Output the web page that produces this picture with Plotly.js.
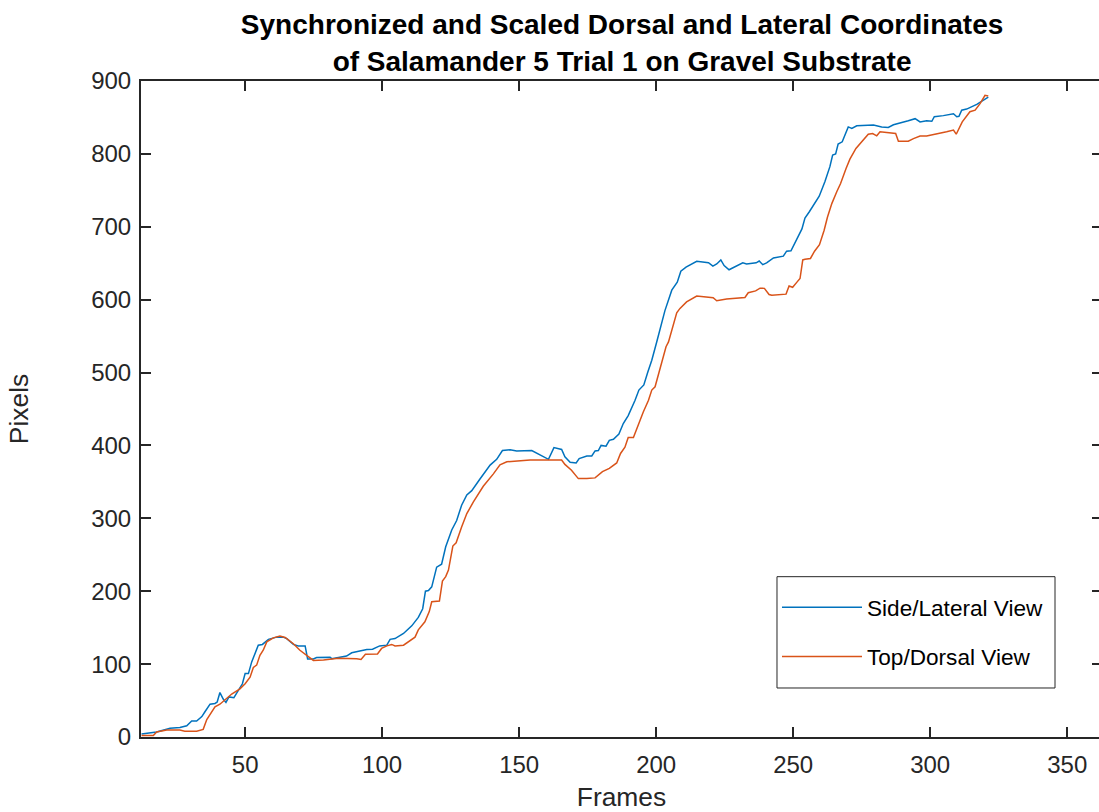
<!DOCTYPE html>
<html>
<head>
<meta charset="utf-8">
<script src="https://cdn.plot.ly/plotly-3.0.1.min.js"></script>
<style>
  html, body { margin: 0; padding: 0; overflow: hidden; background: #fff; }
  #chart { width: 1102px; height: 812px; }
</style>
</head>
<body>
<div id="chart"></div>
<script>
// Side (lateral) camera track: frame number and position in pixels
const sideFrames = [12.2, 17.7, 22.6, 26.2, 28.7, 30.5, 32.3, 34.2, 35.4, 37.2, 39, 39.8, 40.8, 42, 43, 44.1, 45.9, 47.5, 49, 50, 51.2, 52.4, 54.8, 56.3, 58.5, 61.5, 63.9, 65.2, 67.6, 69.4, 71.9, 72.8, 74.9, 76.1, 81, 81.6, 87, 88.9, 92.3, 94.4, 96.5, 99.1, 101.7, 102.9, 104.7, 107.8, 110.8, 113.2, 114.8, 115.8, 116.9, 118.1, 119.9, 121.7, 123.2, 125.4, 127.2, 129, 130.9, 132.7, 135.7, 139.4, 141.8, 143.9, 146.7, 149.1, 154.6, 160.7, 162.7, 165.5, 166.7, 168.6, 170.8, 171.9, 174.7, 176.5, 177.7, 178.9, 179.9, 181.7, 182.9, 184.4, 186.4, 188, 189.8, 191.4, 192.3, 193.7, 195.5, 196.9, 198.4, 200.2, 201.4, 203.2, 205.7, 206.9, 207.7, 209, 210.9, 214.8, 219.1, 220.7, 222.1, 223.6, 224.8, 226.6, 229.4, 231.6, 233, 236.5, 237.6, 238.9, 240.3, 242.8, 246.4, 247.6, 249.2, 251.3, 253.2, 254.3, 255.9, 259.5, 261.6, 263.4, 264.4, 265.5, 266.4, 267.9, 270.1, 271.4, 273.2, 279.3, 282.3, 284.7, 286.6, 292, 294.5, 296.3, 298.7, 300.6, 301.5, 304.8, 308.5, 309.7, 310.5, 311.5, 313.3, 317, 321.2];
const sidePixels = [4, 7, 12, 13, 15.5, 22, 22, 28, 35, 45, 46, 48, 61, 52, 47.5, 55, 54, 64, 73, 87, 87, 103, 126, 127, 134, 137, 137, 135, 127, 125, 125, 107, 107, 109, 109.5, 107.5, 111, 115.5, 118.5, 120, 120.5, 125, 126, 134, 135, 142, 152.5, 164, 176, 200, 201, 206, 233, 237, 261, 284, 297, 318, 332, 338, 354, 373, 381, 393, 394, 392.5, 393, 381, 397, 394.5, 384.5, 377, 376, 382, 385.5, 385.5, 392.5, 393, 400, 399, 407, 408.5, 415.5, 430, 441, 453, 462, 476, 483, 500, 517, 542, 558, 585, 613, 620.6, 624, 639, 644.6, 652.6, 650.7, 646, 649, 654.5, 646.8, 641, 646.8, 650.5, 649, 650.5, 653, 648, 650.5, 657.3, 659.7, 666.5, 667, 682, 697, 712, 720.6, 742, 762, 782.5, 798.5, 799.8, 813.5, 816.6, 837, 835, 838.6, 839.6, 836.8, 836.3, 840, 845.5, 848.3, 843.8, 845.5, 844.7, 851, 852.5, 855, 851, 851.5, 860, 861.5, 868, 878];

// Top (dorsal) camera track
const topFrames = [12.2, 16.5, 17.7, 21.4, 26.2, 28, 32.3, 34.7, 36, 37.2, 39, 40.8, 43.3, 45.1, 48.1, 50, 51.8, 53, 54.2, 55.4, 56.6, 57.9, 60.3, 62.7, 64.6, 66.4, 67.6, 70, 72.3, 74.9, 78.6, 84, 90.7, 92.3, 93.9, 98.3, 99.8, 101.7, 103.5, 104.7, 107.8, 109.6, 112, 113.2, 115.6, 117.2, 118.1, 120.9, 122, 123.2, 124.2, 125.8, 127, 129, 130.9, 133.3, 136.9, 140.6, 143, 145.5, 147.9, 150.3, 154, 165.5, 166.7, 169.1, 171.6, 174.7, 177.7, 180.4, 182.9, 185.6, 187, 188.6, 189.8, 191.7, 192.9, 195.3, 197.2, 198.4, 199.6, 201, 202.5, 203.6, 204.5, 206, 207.5, 208.7, 211.1, 214.8, 219, 220.8, 222.1, 225.7, 232.4, 233.6, 236.3, 237.9, 239.5, 241.2, 242.2, 245.2, 247.4, 248.5, 249.8, 251.3, 252.5, 253.5, 254.3, 256.3, 257.8, 259.6, 261.3, 262.5, 264.1, 265.9, 267.3, 269.3, 270.7, 272.9, 275.6, 277.4, 279, 280.5, 281.7, 285.4, 287.4, 288.4, 292, 293.9, 296.3, 298.7, 302.4, 306, 308.5, 309.5, 311.7, 314.5, 316.4, 318.2, 320, 321.2];
const topPixels = [2, 2, 7, 9.5, 9.5, 8, 8, 10.5, 24, 31.5, 41.5, 45, 53, 59, 66, 73, 82, 95.5, 98.6, 112, 119, 130.5, 136, 138.5, 136.5, 131, 128, 119, 113, 105, 105.5, 108, 107.5, 106.5, 113.5, 114, 121.5, 125, 127, 125, 126, 131, 137, 147, 158, 172, 185.6, 186.6, 214, 220, 229, 262, 266.5, 288, 306.5, 322.5, 344, 361, 373.5, 377.5, 378.5, 379, 380, 380, 374, 366, 354.5, 354.5, 355.5, 364, 368.5, 376, 389, 397.5, 411, 411, 423, 446, 462, 476, 480.5, 500, 517, 535.5, 542, 562.6, 582, 588, 597, 605, 604, 602.6, 598.5, 601, 603, 609.5, 612, 615.8, 615.5, 607, 606, 607.5, 607.6, 618.8, 617, 623.7, 629, 654.5, 655.4, 656.5, 666.5, 675.5, 695.3, 713, 731.8, 748, 759.3, 780, 792.8, 807.4, 818.8, 827, 828, 824.8, 830.3, 829.4, 828, 817.5, 817.5, 821, 824.5, 824.5, 828, 830.4, 832.7, 827, 844, 857.8, 860, 869, 880.3, 879.4];

const xTicks = [50, 100, 150, 200, 250, 300, 350];
const yTicks = [0, 100, 200, 300, 400, 500, 600, 700, 800, 900];
const seriesNames = ['Side/Lateral View', 'Top/Dorsal View'];

const ink = '#262626';
const fontFamily = '"Liberation Sans", Arial, Helvetica, sans-serif';

const traces = [
  {
    x: sideFrames, y: sidePixels, name: seriesNames[0], legendgroup: 'a',
    type: 'scatter', mode: 'lines',
    line: { color: '#0072BD', width: 1.5 }
  },
  {
    x: topFrames, y: topPixels, name: seriesNames[1], legendgroup: 'b',
    type: 'scatter', mode: 'lines',
    line: { color: '#D95319', width: 1.5 }
  }
];

const axisCommon = {
  showgrid: false, zeroline: false,
  showline: true, linecolor: ink, linewidth: 2,
  mirror: 'ticks', ticks: 'inside', ticklen: 10, tickwidth: 2, tickcolor: ink,
  tickfont: { family: fontFamily, size: 24, color: ink }
};

const layout = {
  width: 1102, height: 812,
  margin: { l: 141, r: 0, t: 81, b: 75 },
  paper_bgcolor: '#fff', plot_bgcolor: '#fff',
  title: {
    text: '<b>Synchronized and Scaled Dorsal and Lateral Coordinates<br>of Salamander 5 Trial 1 on Gravel Substrate</b>',
    font: { family: fontFamily, size: 28, color: '#000' },
    x: 0.5645, xanchor: 'center', y: 0.958, yanchor: 'top'
  },
  xaxis: Object.assign({}, axisCommon, {
    range: [12, 362.7], tickvals: xTicks, ticklabelstandoff: 5,
    title: { text: 'Frames', font: { family: fontFamily, size: 26.4, color: ink }, standoff: 11 }
  }),
  yaxis: Object.assign({}, axisCommon, {
    range: [0, 900], tickvals: yTicks, ticklabelstandoff: 3,
    title: { text: 'Pixels', font: { family: fontFamily, size: 26.4, color: ink }, standoff: 55 }
  }),
  // legend frame
  shapes: [{
    type: 'rect', xref: 'paper', yref: 'paper', layer: 'below',
    x0: 0.6618, x1: 0.9511, y0: 0.0747, y1: 0.2444,
    line: { color: ink, width: 1 }, fillcolor: '#fff'
  }],
  showlegend: true,
  legend: {
    x: 0.6618, y: 0.2302, xanchor: 'left', yanchor: 'top',
    bgcolor: 'rgba(0,0,0,0)', borderwidth: 0,
    font: { family: fontFamily, size: 22.6, color: '#000' },
    tracegroupgap: 17, itemwidth: 80
  }
};

Plotly.newPlot('chart', traces, layout, { displayModeBar: false, staticPlot: true });
</script>
</body>
</html>
